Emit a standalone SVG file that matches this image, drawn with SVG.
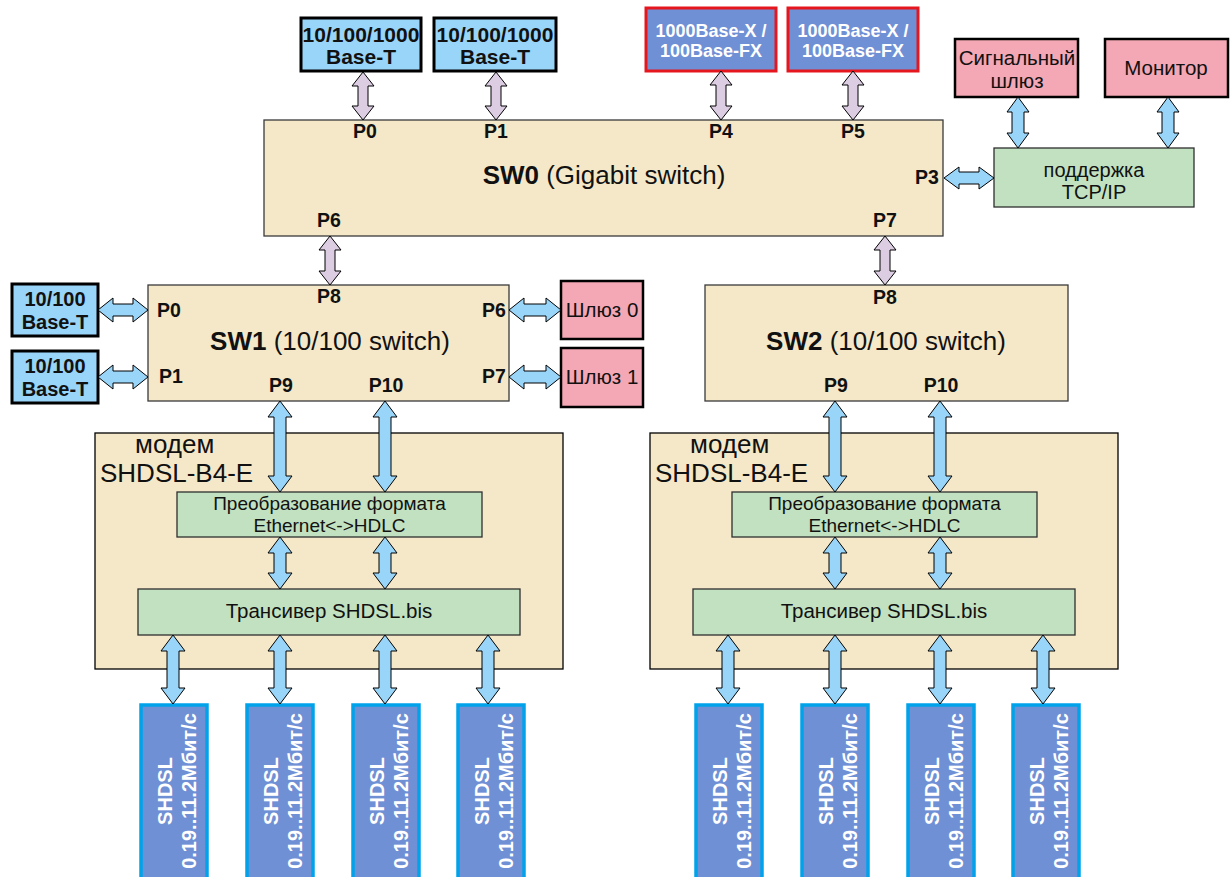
<svg xmlns="http://www.w3.org/2000/svg" width="1231" height="877" viewBox="0 0 1231 877">
<style>
text{font-family:"Liberation Sans",Arial,sans-serif;fill:#111}
.b{font-weight:bold}
.c{text-anchor:middle}
.sw{fill:#f4e8c8;stroke:#3a3a3a;stroke-width:1.3}
.lb{fill:#99d5f9;stroke:#000;stroke-width:3}
.fx{fill:#7090d5;stroke:#e5161e;stroke-width:3}
.pk{fill:#f4a7b4;stroke:#000;stroke-width:2.5}
.gr{fill:#c2e1c0;stroke:#2e2e2e;stroke-width:1.3}
.md{fill:#f4e8c8;stroke:#000;stroke-width:1.3}
.ln{fill:#7090d5;stroke:#00a2ea;stroke-width:3.5}
.w{fill:#fff}
.ar{fill:#99d5f9;stroke:#000;stroke-width:1}
.al{fill:#dccde2;stroke:#000;stroke-width:1}
.p{font-size:19.5px;font-weight:bold}
</style>

<g id="eth0"><rect class="lb" x="301" y="18" width="120" height="53"/>
  <text class="b c" x="361" y="42" font-size="21">10/100/1000</text><text class="b c" x="361" y="64" font-size="21">Base-T</text></g>
<g id="eth1"><rect class="lb" x="434" y="18" width="122" height="53"/>
  <text class="b c" x="495" y="42" font-size="21">10/100/1000</text><text class="b c" x="495" y="64" font-size="21">Base-T</text></g>
<g id="fx4"><rect class="fx" x="646" y="8" width="130" height="63"/>
  <text class="b c w" x="711" y="37" font-size="18">1000Base-X /</text><text class="b c w" x="711" y="57" font-size="18">100Base-FX</text></g>
<g id="fx5"><rect class="fx" x="788" y="8" width="130" height="63"/>
  <text class="b c w" x="853" y="37" font-size="18">1000Base-X /</text><text class="b c w" x="853" y="57" font-size="18">100Base-FX</text></g>
<g id="siggw"><rect class="pk" x="955" y="39" width="123" height="58"/>
  <text class="c" x="1017" y="65" font-size="20.5">Сигнальный</text><text class="c" x="1017" y="88" font-size="20.5">шлюз</text></g>
<g id="monitor"><rect class="pk" x="1105" y="39" width="123" height="58"/>
  <text class="c" x="1166" y="75" font-size="20.5">Монитор</text></g>
<g id="tcpip"><rect class="gr" x="994" y="148" width="200" height="59"/>
  <text class="c" x="1094" y="177" font-size="20">поддержка</text><text class="c" x="1094" y="199" font-size="20">TCP/IP</text></g>

<g id="sw0"><rect class="sw" x="264" y="120" width="679" height="116"/>
  <text class="p c" x="365" y="138">P0</text><text class="p c" x="496" y="138">P1</text>
  <text class="p c" x="721" y="138">P4</text><text class="p c" x="853" y="138">P5</text>
  <text class="p c" x="927" y="184">P3</text>
  <text class="p c" x="329" y="227">P6</text><text class="p c" x="885" y="227">P7</text>
  <text class="c" x="604" y="184" font-size="26"><tspan font-weight="bold">SW0</tspan> (Gigabit switch)</text></g>

<g id="sw1"><rect class="sw" x="148" y="285" width="361" height="116"/>
  <text class="p c" x="329" y="303">P8</text>
  <text class="p c" x="169" y="317">P0</text><text class="p c" x="171" y="383">P1</text>
  <text class="p c" x="494" y="317">P6</text><text class="p c" x="494" y="383">P7</text>
  <text class="p c" x="281" y="392">P9</text><text class="p c" x="386" y="392">P10</text>
  <text class="c" x="330" y="350" font-size="26"><tspan font-weight="bold">SW1</tspan> (10/100 switch)</text></g>
<g id="eth-sw1-p0"><rect class="lb" x="12" y="284" width="86" height="52"/>
  <text class="b c" x="55" y="306" font-size="20">10/100</text><text class="b c" x="55" y="329" font-size="20">Base-T</text></g>
<g id="eth-sw1-p1"><rect class="lb" x="12" y="351" width="86" height="52"/>
  <text class="b c" x="55" y="373" font-size="20">10/100</text><text class="b c" x="55" y="396" font-size="20">Base-T</text></g>
<g id="gw0"><rect class="pk" x="561" y="281" width="82" height="58"/>
  <text class="c" x="602" y="317" font-size="20.5">Шлюз 0</text></g>
<g id="gw1"><rect class="pk" x="561" y="348" width="82" height="59"/>
  <text class="c" x="602" y="384" font-size="20.5">Шлюз 1</text></g>

<g id="sw2"><rect class="sw" x="705" y="285" width="363" height="116"/>
  <text class="p c" x="885" y="304">P8</text>
  <text class="p c" x="836" y="392">P9</text><text class="p c" x="941" y="392">P10</text>
  <text class="c" x="886" y="350" font-size="26"><tspan font-weight="bold">SW2</tspan> (10/100 switch)</text></g>

<g id="modem1">
  <rect class="md" x="95" y="433" width="468" height="236"/>
  <text x="135" y="453" font-size="26">модем</text>
  <text x="100" y="482" font-size="26">SHDSL-B4-E</text>
  <g id="conv1"><rect class="gr" x="177" y="492" width="305" height="45"/>
    <text class="c" x="329.5" y="510" font-size="19">Преобразование формата</text>
    <text class="c" x="329.5" y="532" font-size="19">Ethernet&lt;-&gt;HDLC</text></g>
  <g id="trx1"><rect class="gr" x="138" y="589" width="382" height="46"/>
    <text class="c" x="329" y="618" font-size="20.5">Трансивер SHDSL.bis</text></g>
</g>
<g id="modem2" transform="translate(555,0)">
  <rect class="md" x="95" y="433" width="468" height="236"/>
  <text x="135" y="453" font-size="26">модем</text>
  <text x="100" y="482" font-size="26">SHDSL-B4-E</text>
  <g id="conv2"><rect class="gr" x="177" y="492" width="305" height="45"/>
    <text class="c" x="329.5" y="510" font-size="19">Преобразование формата</text>
    <text class="c" x="329.5" y="532" font-size="19">Ethernet&lt;-&gt;HDLC</text></g>
  <g id="trx2"><rect class="gr" x="138" y="589" width="382" height="46"/>
    <text class="c" x="329" y="618" font-size="20.5">Трансивер SHDSL.bis</text></g>
</g>

<g id="lines1">
  <g id="line1a"><rect class="ln" x="141" y="705" width="66" height="180"/>
    <text class="b c w" font-size="20" transform="translate(172,791) rotate(-90)">SHDSL</text>
    <text class="b c w" font-size="20" transform="translate(196,791) rotate(-90)">0.19..11.2Мбит/с</text></g>
  <g id="line1b"><rect class="ln" x="247" y="705" width="66" height="180"/>
    <text class="b c w" font-size="20" transform="translate(278,791) rotate(-90)">SHDSL</text>
    <text class="b c w" font-size="20" transform="translate(302,791) rotate(-90)">0.19..11.2Мбит/с</text></g>
  <g id="line1c"><rect class="ln" x="353" y="705" width="66" height="180"/>
    <text class="b c w" font-size="20" transform="translate(384,791) rotate(-90)">SHDSL</text>
    <text class="b c w" font-size="20" transform="translate(408,791) rotate(-90)">0.19..11.2Мбит/с</text></g>
  <g id="line1d"><rect class="ln" x="458" y="705" width="66" height="180"/>
    <text class="b c w" font-size="20" transform="translate(489,791) rotate(-90)">SHDSL</text>
    <text class="b c w" font-size="20" transform="translate(513,791) rotate(-90)">0.19..11.2Мбит/с</text></g>
</g>
<g id="lines2" transform="translate(555,0)">
  <g id="line2a"><rect class="ln" x="141" y="705" width="66" height="180"/>
    <text class="b c w" font-size="20" transform="translate(172,791) rotate(-90)">SHDSL</text>
    <text class="b c w" font-size="20" transform="translate(196,791) rotate(-90)">0.19..11.2Мбит/с</text></g>
  <g id="line2b"><rect class="ln" x="247" y="705" width="66" height="180"/>
    <text class="b c w" font-size="20" transform="translate(278,791) rotate(-90)">SHDSL</text>
    <text class="b c w" font-size="20" transform="translate(302,791) rotate(-90)">0.19..11.2Мбит/с</text></g>
  <g id="line2c"><rect class="ln" x="353" y="705" width="66" height="180"/>
    <text class="b c w" font-size="20" transform="translate(384,791) rotate(-90)">SHDSL</text>
    <text class="b c w" font-size="20" transform="translate(408,791) rotate(-90)">0.19..11.2Мбит/с</text></g>
  <g id="line2d"><rect class="ln" x="458" y="705" width="66" height="180"/>
    <text class="b c w" font-size="20" transform="translate(489,791) rotate(-90)">SHDSL</text>
    <text class="b c w" font-size="20" transform="translate(513,791) rotate(-90)">0.19..11.2Мбит/с</text></g>
</g>

<g id="connectors">
  <path class="al" d="M363 72 L374 86 L368 86 L368 106 L374 106 L363 120 L352 106 L358 106 L358 86 L352 86 Z"/>
  <path class="al" d="M496 72 L507 86 L501 86 L501 106 L507 106 L496 120 L485 106 L491 106 L491 86 L485 86 Z"/>
  <path class="al" d="M721 71 L732 85 L726 85 L726 106 L732 106 L721 120 L710 106 L716 106 L716 85 L710 85 Z"/>
  <path class="al" d="M853 71 L864 85 L858 85 L858 106 L864 106 L853 120 L842 106 L848 106 L848 85 L842 85 Z"/>
  <path class="al" d="M330 236 L341 250 L335 250 L335 271 L341 271 L330 285 L319 271 L325 271 L325 250 L319 250 Z"/>
  <path class="al" d="M885 236 L896 250 L890 250 L890 271 L896 271 L885 285 L874 271 L880 271 L880 250 L874 250 Z"/>
  <path class="ar" d="M1018 97 L1029 112 L1024 112 L1024 133 L1029 133 L1018 148 L1007 133 L1012 133 L1012 112 L1007 112 Z"/>
  <path class="ar" d="M1168 97 L1179 112 L1174 112 L1174 133 L1179 133 L1168 148 L1157 133 L1162 133 L1162 112 L1157 112 Z"/>
  <path class="ar" d="M944 178 L959 167 L959 172 L979 172 L979 167 L994 178 L979 189 L979 184 L959 184 L959 189 Z"/>
  <path class="ar" d="M98 310 L113 298 L113 304 L133 304 L133 298 L148 310 L133 322 L133 316 L113 316 L113 322 Z"/>
  <path class="ar" d="M98 377 L113 365 L113 371 L133 371 L133 365 L148 377 L133 389 L133 383 L113 383 L113 389 Z"/>
  <path class="ar" d="M509 310 L524 298 L524 304 L546 304 L546 298 L561 310 L546 322 L546 316 L524 316 L524 322 Z"/>
  <path class="ar" d="M509 377 L524 365 L524 371 L546 371 L546 365 L561 377 L546 389 L546 383 L524 383 L524 389 Z"/>
  <g id="modem1-links">
    <path class="ar" d="M280 401 L292 417 L286 417 L286 476 L292 476 L280 492 L268 476 L274 476 L274 417 L268 417 Z"/>
    <path class="ar" d="M385 401 L397 417 L391 417 L391 476 L397 476 L385 492 L373 476 L379 476 L379 417 L373 417 Z"/>
    <path class="ar" d="M280 537 L292 553 L286 553 L286 573 L292 573 L280 589 L268 573 L274 573 L274 553 L268 553 Z"/>
    <path class="ar" d="M385 537 L397 553 L391 553 L391 573 L397 573 L385 589 L373 573 L379 573 L379 553 L373 553 Z"/>
    <path class="ar" d="M173 635 L185 651 L179 651 L179 688 L185 688 L173 704 L161 688 L167 688 L167 651 L161 651 Z"/>
    <path class="ar" d="M280 635 L292 651 L286 651 L286 688 L292 688 L280 704 L268 688 L274 688 L274 651 L268 651 Z"/>
    <path class="ar" d="M385 635 L397 651 L391 651 L391 688 L397 688 L385 704 L373 688 L379 688 L379 651 L373 651 Z"/>
    <path class="ar" d="M488 635 L500 651 L494 651 L494 688 L500 688 L488 704 L476 688 L482 688 L482 651 L476 651 Z"/>
  </g>
  <g id="modem2-links" transform="translate(555,0)">
    <path class="ar" d="M280 401 L292 417 L286 417 L286 476 L292 476 L280 492 L268 476 L274 476 L274 417 L268 417 Z"/>
    <path class="ar" d="M385 401 L397 417 L391 417 L391 476 L397 476 L385 492 L373 476 L379 476 L379 417 L373 417 Z"/>
    <path class="ar" d="M280 537 L292 553 L286 553 L286 573 L292 573 L280 589 L268 573 L274 573 L274 553 L268 553 Z"/>
    <path class="ar" d="M385 537 L397 553 L391 553 L391 573 L397 573 L385 589 L373 573 L379 573 L379 553 L373 553 Z"/>
    <path class="ar" d="M173 635 L185 651 L179 651 L179 688 L185 688 L173 704 L161 688 L167 688 L167 651 L161 651 Z"/>
    <path class="ar" d="M280 635 L292 651 L286 651 L286 688 L292 688 L280 704 L268 688 L274 688 L274 651 L268 651 Z"/>
    <path class="ar" d="M385 635 L397 651 L391 651 L391 688 L397 688 L385 704 L373 688 L379 688 L379 651 L373 651 Z"/>
    <path class="ar" d="M488 635 L500 651 L494 651 L494 688 L500 688 L488 704 L476 688 L482 688 L482 651 L476 651 Z"/>
  </g>
</g>
</svg>
